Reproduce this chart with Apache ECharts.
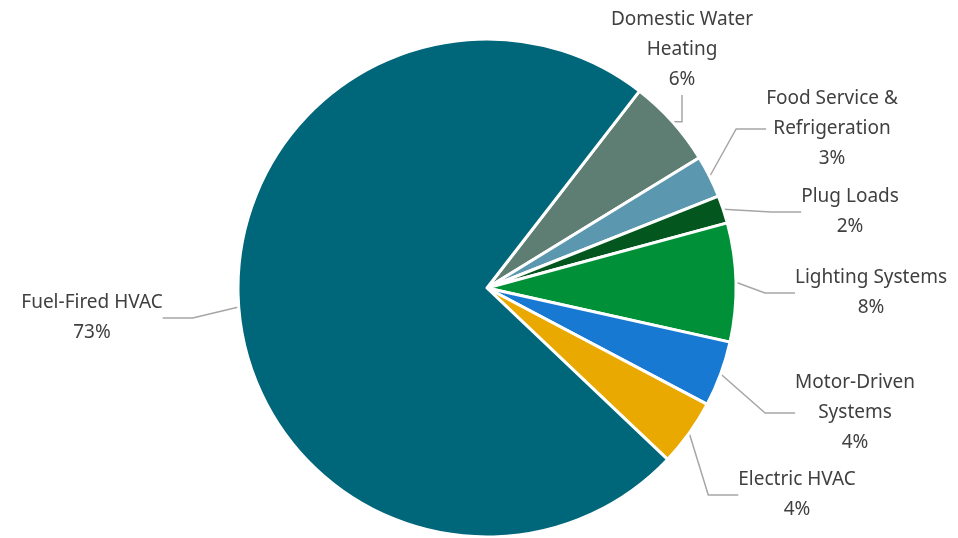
<!DOCTYPE html>
<html>
<head>
<meta charset="utf-8">
<script src="https://cdn.jsdelivr.net/npm/echarts@6/dist/echarts.min.js"></script>
<style>
  html, body { margin: 0; padding: 0; background: #fff; }
  #chart { width: 958px; height: 538px; }
</style>
</head>
<body>
<div id="chart"></div>
<script>
// slices, clockwise from the Domestic Water Heating edge
var categories = ['Domestic Water\nHeating', 'Food Service &\nRefrigeration', 'Plug Loads',
    'Lighting Systems', 'Motor-Driven\nSystems', 'Electric HVAC', 'Fuel-Fired HVAC'];
var shares = [5.75, 2.75, 1.8, 7.7, 4.25, 4.35, 73.4];
var colors = ['#5E7D73', '#5C97B0', '#04561F', '#009138', '#1779D1', '#EAA900', '#00667A'];

// label centres (px)
var labelPos = [[682, 50], [832, 129], [850, 212], [871, 293], [855, 413], [797, 495], [92, 318]];

var pieData = categories.map(function (c, i) {
    return { name: c, value: shares[i], itemStyle: { color: colors[i] } };
});

var myChart = echarts.init(document.getElementById('chart'));
var option = {
    animation: false,
    series: [{
        type: 'pie',
        center: [487, 288],
        radius: 249,
        startAngle: 52.25,
        clockwise: true,
        data: pieData,
        itemStyle: { borderColor: '#fff', borderWidth: 3 },
        label: {
            show: true,
            position: 'outside',
            fontFamily: 'Noto Sans',
            fontSize: 19,
            lineHeight: 30,
            color: '#404040',
            align: 'center',
            formatter: function (p) {
                return p.name + '\n' + Math.round(p.percent) + '%';
            }
        },
        labelLine: { show: true, lineStyle: { color: '#A6A6A6', width: 1.5 } },
        labelLayout: function (params) {
            var pos = labelPos[params.dataIndex];
            return { x: pos[0], y: pos[1], align: 'center', verticalAlign: 'middle' };
        }
    }]
};
myChart.setOption(option);
</script>
</body>
</html>
